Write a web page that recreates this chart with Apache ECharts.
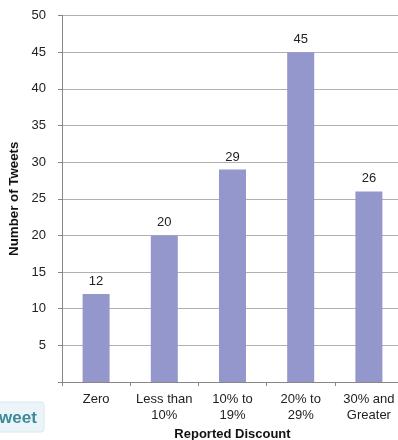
<!DOCTYPE html>
<html>
<head>
<meta charset="utf-8">
<style>html,body{margin:0;padding:0;background:#fff}#c{width:398px;height:440px}</style>
<script src="https://cdn.jsdelivr.net/npm/echarts@6/dist/echarts.min.js"></script>
</head>
<body>
<div id="c"></div>
<script>
const categories = ['Zero', 'Less than\n10%', '10% to\n19%', '20% to\n29%', '30% and\nGreater'];
const tweetCounts = [12, 20, 29, 45, 26];
const yAxisTitle = 'Number of Tweets';
const xAxisTitle = 'Reported Discount';
const buttonText = 'weet';

const font = '"Liberation Sans", Arial, sans-serif';
const chart = echarts.init(document.getElementById('c'), null, { renderer: 'canvas' });
chart.setOption({
  animation: false,
  backgroundColor: '#fff',
  grid: { left: 62, top: 15.5, width: 341, height: 366.5, containLabel: false, outerBoundsMode: 'none' },
  xAxis: {
    type: 'category',
    data: categories,
    name: xAxisTitle,
    nameLocation: 'middle',
    nameGap: 44,
    nameTextStyle: { fontFamily: font, fontSize: 13, fontWeight: 'bold', color: '#111' },
    axisLine: { lineStyle: { color: '#868686', width: 1 } },
    axisTick: { show: true, alignWithLabel: false, length: 4, lineStyle: { color: '#868686' } },
    axisLabel: { fontFamily: font, fontSize: 13, color: '#222', lineHeight: 16, margin: 9, interval: 0 }
  },
  yAxis: {
    type: 'value',
    min: 0,
    max: 50,
    interval: 5,
    name: yAxisTitle,
    nameLocation: 'middle',
    nameGap: 37,
    nameRotate: 90,
    nameTextStyle: { fontFamily: font, fontSize: 13.3, fontWeight: 'bold', color: '#111' },
    axisLine: { show: true, lineStyle: { color: '#868686', width: 1 } },
    axisTick: { show: true, length: 4, lineStyle: { color: '#868686' } },
    axisLabel: {
      fontFamily: font, fontSize: 13, color: '#222', margin: 16,
      formatter: v => (v === 0 ? '' : String(v))
    },
    splitLine: { show: true, lineStyle: { color: '#b0b0b0', width: 1 } }
  },
  series: [{
    type: 'bar',
    data: tweetCounts,
    barWidth: 27,
    itemStyle: { color: '#9497cb' },
    label: { show: true, position: 'top', distance: 6, fontFamily: font, fontSize: 13, color: '#222' }
  }],
  graphic: [
    {
      type: 'rect',
      shape: { x: -10, y: 402, width: 54, height: 30, r: 3 },
      style: { fill: '#eaf4f9', stroke: '#d8e8ef', lineWidth: 1 },
      z: 10
    },
    {
      type: 'text',
      x: -1,
      y: 410,
      style: { text: buttonText, fontFamily: font, fontSize: 17, fontWeight: 'bold', fill: '#3f8a96' },
      z: 11
    }
  ]
});
</script>
</body>
</html>
